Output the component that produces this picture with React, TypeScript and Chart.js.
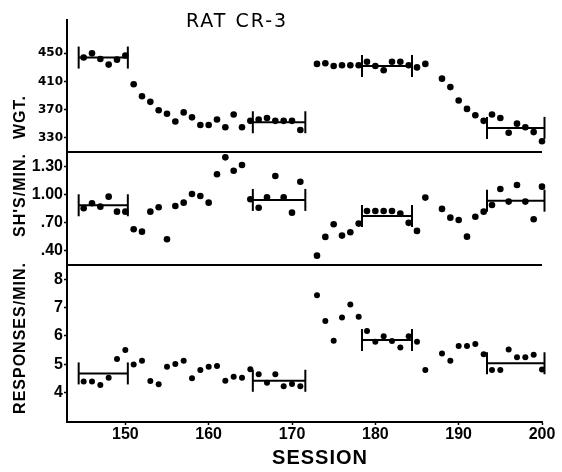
import React, { useEffect, useRef } from 'react';
import { Chart, registerables } from 'chart.js';

Chart.register(...registerables);

// Sessions (172 and 187 have no data points)
const SESSIONS = [
  145, 146, 147, 148, 149, 150, 151, 152, 153, 154, 155, 156, 157, 158, 159, 160,
  161, 162, 163, 164, 165, 166, 167, 168, 169, 170, 171,
  173, 174, 175, 176, 177, 178, 179, 180, 181, 182, 183, 184, 185, 186,
  188, 189, 190, 191, 192, 193, 194, 195, 196, 197, 198, 199, 200,
];

// Body weight (grams)
const WEIGHT = [
  444, 450, 442, 434, 441, 447, 406, 389, 381, 369, 364, 353, 366, 359, 348, 348,
  356, 345, 363, 345, 354, 356, 358, 354, 354, 354, 341,
  435, 436, 432, 433, 433, 433, 438, 432, 426, 438, 438, 433, 430, 435,
  414, 402, 383, 371, 362, 354, 363, 358, 337, 350, 345, 338, 325,
];

// Shocks per minute
const SHOCKS = [
  0.856, 0.909, 0.873, 0.98, 0.82, 0.82, 0.632, 0.606, 0.82, 0.867, 0.525, 0.88, 0.916, 1.009, 0.987, 0.916,
  1.219, 1.4, 1.257, 1.318, 0.952, 0.862, 0.973, 1.2, 0.973, 0.809, 1.14,
  0.35, 0.55, 0.685, 0.564, 0.6, 0.692, 0.827, 0.827, 0.827, 0.827, 0.8, 0.7, 0.614, 0.97,
  0.849, 0.756, 0.731, 0.553, 0.766, 0.82, 0.891, 1.062, 0.927, 1.105, 0.927, 0.739, 1.087,
];

// Responses per minute
const RESPONSES = [
  4.38, 4.38, 4.26, 4.52, 5.18, 5.5, 4.99, 5.12, 4.4, 4.29, 4.91, 5.0, 5.12, 4.5, 4.79, 4.91,
  4.93, 4.41, 4.55, 4.52, 4.82, 4.64, 4.34, 4.64, 4.22, 4.3, 4.22,
  7.44, 6.53, 5.83, 6.65, 7.11, 6.68, 6.17, 5.79, 5.99, 5.82, 5.59, 5.99, 5.79, 4.79,
  5.38, 5.12, 5.64, 5.64, 5.71, 5.35, 4.79, 4.79, 5.52, 5.24, 5.24, 5.33, 4.81,
];

// Baseline brackets (session span and mean level)
const BR_START = [144.4, 165.3, 178.4, 193.4];
const BR_END = [150.3, 171.6, 184.4, 200.3];
const WGT_BASE = [444, 352, 432, 344];
const SH_BASE = [0.888, 0.945, 0.774, 0.937];
const RESP_BASE = [4.67, 4.41, 5.85, 5.03];

// Ticks
const X_TICKS = [150, 160, 170, 180, 190, 200];
const WGT_TICKS = [330, 370, 410, 450];
const SH_TICKS = [0.4, 0.7, 1.0, 1.3];
const SH_TICK_LABELS = ['.40', '.70', '1.00', '1.30'];
const RESP_TICKS = [4, 5, 6, 7, 8];

const toPoints = (ys: number[]) => SESSIONS.map((x, i) => ({ x, y: ys[i] }));

const bracketSets = (levels: number[], axis: string) =>
  levels.map((lv, i) => ({
    data: [
      { x: BR_START[i], y: lv },
      { x: BR_END[i], y: lv },
    ],
    yAxisID: axis,
    showLine: true,
    borderColor: '#000',
    borderWidth: 2,
    pointStyle: 'line',
    pointRotation: 90,
    pointRadius: 11,
    pointBorderWidth: 2,
    pointBorderColor: '#000',
    pointBackgroundColor: '#000',
    clip: false,
  }));

const dotSet = (ys: number[], axis: string, r: number) => ({
  data: toPoints(ys),
  yAxisID: axis,
  pointRadius: r,
  pointBackgroundColor: '#000',
  pointBorderColor: '#000',
  pointBorderWidth: 0,
  showLine: false,
  clip: false,
});

const decor = {
  id: 'decor',
  afterDraw(chart: any) {
    const ctx = chart.ctx;
    const { left, right } = chart.chartArea;
    const sW = chart.scales.yW;
    const sS = chart.scales.yS;
    ctx.save();
    ctx.strokeStyle = '#000';
    ctx.lineWidth = 2;
    [sW.bottom, sS.bottom].forEach((y: number) => {
      ctx.beginPath();
      ctx.moveTo(left, y);
      ctx.lineTo(right, y);
      ctx.stroke();
    });
    ctx.fillStyle = '#000';
    ctx.textAlign = 'center';
    ctx.textBaseline = 'middle';
    ctx.font = '19px "DejaVu Sans"';
    ctx.letterSpacing = '2px';
    ctx.fillText('RAT CR-3', 237, 22);
    ctx.font = 'bold 20px "Liberation Sans"';
    ctx.letterSpacing = '1px';
    ctx.fillText('SESSION', 320, 458);
    ctx.font = 'bold 16px "Liberation Sans"';
    const yText = (t: string, cy: number) => {
      ctx.save();
      ctx.translate(21, cy);
      ctx.rotate(-Math.PI / 2);
      ctx.fillText(t, 0, 0);
      ctx.restore();
    };
    yText('WGT.', 117);
    yText("SH'S/MIN.", 195);
    yText('RESPONSES/MIN.', 338);
    ctx.restore();
  },
};

const yAxis = (
  min: number,
  max: number,
  weight: number,
  ticks: number[],
  fontSize: number,
  family: string,
  labels?: string[]
) => ({
  type: 'linear',
  position: 'left',
  stack: 'panels',
  stackWeight: weight,
  min,
  max,
  afterBuildTicks: (s: any) => {
    s.ticks = ticks.map((v) => ({ value: v }));
  },
  afterFit: (s: any) => {
    s.width = 67;
  },
  border: { display: true, color: '#000', width: 2 },
  grid: { display: true, drawOnChartArea: false, tickLength: 3, color: '#000', tickWidth: 1.5 },
  ticks: {
    color: '#000',
    padding: 1,
    autoSkip: false,
    font: { family, weight: 'bold', size: fontSize },
    callback: (v: number) => {
      const idx = ticks.findIndex((t) => Math.abs(t - v) < 1e-6);
      return labels ? labels[idx] : String(v);
    },
  },
});

export default function App() {
  const ref = useRef<HTMLCanvasElement | null>(null);
  useEffect(() => {
    if (!ref.current) return;
    const chart = new Chart(ref.current, {
      type: 'scatter',
      data: {
        datasets: [
          dotSet(WEIGHT, 'yW', 3.3),
          dotSet(SHOCKS, 'yS', 3.3),
          dotSet(RESPONSES, 'yR', 3),
          ...bracketSets(WGT_BASE, 'yW'),
          ...bracketSets(SH_BASE, 'yS'),
          ...bracketSets(RESP_BASE, 'yR'),
        ] as any,
      },
      options: {
        animation: false,
        responsive: false,
        devicePixelRatio: 1,
        layout: { padding: { left: 0, right: 20, top: 20, bottom: 0 } },
        plugins: { legend: { display: false }, tooltip: { enabled: false }, title: { display: false } },
        events: [],
        scales: {
          x: {
            type: 'linear',
            min: 143,
            max: 200,
            afterBuildTicks: (s: any) => {
              s.ticks = X_TICKS.map((v) => ({ value: v }));
            },
            afterFit: (s: any) => {
              s.height = 50;
            },
            border: { display: true, color: '#000', width: 2 },
            grid: { display: true, drawOnChartArea: false, tickLength: 3, color: '#000', tickWidth: 1.5 },
            ticks: {
              color: '#000',
              padding: 0,
              maxRotation: 0,
              autoSkip: false,
              font: { family: 'Liberation Sans', weight: 'bold', size: 16 },
            },
          },
          yR: yAxis(2.95, 8.51, 157, RESP_TICKS, 16, 'Liberation Sans'),
          yS: yAxis(0.25, 1.457, 113, SH_TICKS, 16, 'Liberation Sans', SH_TICK_LABELS),
          yW: yAxis(309.7, 497.4, 132, WGT_TICKS, 12, 'DejaVu Sans'),
        } as any,
      },
      plugins: [decor],
    });
    return () => chart.destroy();
  }, []);
  return (
    <div style={{ position: 'fixed', left: 0, top: 0, width: 562, height: 472, background: '#fff' }}>
      <canvas ref={ref} width={562} height={472} style={{ display: 'block' }} />
    </div>
  );
}
